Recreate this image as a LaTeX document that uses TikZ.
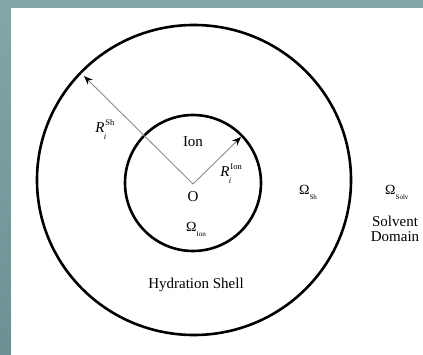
\documentclass[tikz,border=0pt]{standalone}
\usepackage{fontspec}
\setmainfont{Liberation Serif}
\usetikzlibrary{arrows.meta}
\definecolor{frametop}{HTML}{84A6A9}
\definecolor{framebot}{HTML}{6E8F93}
\definecolor{arrowgray}{HTML}{8C8C8C}
\tikzset{
  ring/.style={line width=2.6pt, draw=black},
  radius arrow/.style={draw=arrowgray, line width=0.9pt, -{Stealth[length=9pt,width=7pt,black]}},
  lbl/.style={inner sep=0pt, font=\fontsize{15}{17}\selectfont},
  omlbl/.style={inner sep=0pt, font=\fontsize{14}{15}\selectfont},
  scriptlbl/.style={inner sep=0pt, font=\fontsize{8.5}{9}\selectfont},
}
\newcommand{\omsub}[1]{\raisebox{-5pt}{\fontsize{7}{8}\selectfont #1}}
\begin{document}
\begin{tikzpicture}[x=1pt,y=-1pt]
  \useasboundingbox (0,0) rectangle (423,355);
  % frame
  \fill[frametop] (0,0) rectangle (423,8);
  \shade[top color=frametop, bottom color=framebot] (0,0) rectangle (11,355);
  \fill[white] (11,8) rectangle (423,355);
  % circles
  \draw[ring] (194,180) ellipse [x radius=157, y radius=155];
  \draw[ring] (193,183) circle [radius=68];
  % centre and radius end points
  \coordinate (O) at (193,184);
  \coordinate (shend) at (84,76);
  \coordinate (ionend) at (241,137);
  \draw[radius arrow] (O) -- (shend);
  \draw[radius arrow] (O) -- (ionend);
  % labels
  \node[lbl] (olbl) at (193,197) {O};
  \node[lbl] (ion) at (193,142) {Ion};
  \node[lbl] (rsh) at (100,128) {\textit{R}};
  \node[scriptlbl, anchor=south west] (rshsup) at ([xshift=0.5pt,yshift=-3pt]rsh.north east) {Sh};
  \node[scriptlbl, anchor=north west, font=\fontsize{8.5}{9}\selectfont\itshape] (rshsub) at ([xshift=-1pt,yshift=-1pt]rsh.south east) {i};
  \node[lbl] (rion) at (225,172) {\textit{R}};
  \node[scriptlbl, anchor=south west] (rionsup) at ([xshift=0.5pt,yshift=-3pt]rion.north east) {Ion};
  \node[scriptlbl, anchor=north west, font=\fontsize{8.5}{9}\selectfont\itshape] (rionsub) at ([xshift=-1pt,yshift=-1pt]rion.south east) {i};
  \node[omlbl, anchor=west] (omion) at (186,229) {Ω\omsub{Ion}};
  \node[omlbl, anchor=west] (omsh) at (299,192) {Ω\omsub{Sh}};
  \node[omlbl, anchor=west] (omsolv) at (385,192) {Ω\omsub{Solv}};
  \node[omlbl, align=center, font=\fontsize{15}{15}\selectfont] (solvent) at (395,229) {Solvent\\Domain};
  \node[lbl] (hyd) at (196,285) {Hydration Shell};
\end{tikzpicture}
\end{document}
